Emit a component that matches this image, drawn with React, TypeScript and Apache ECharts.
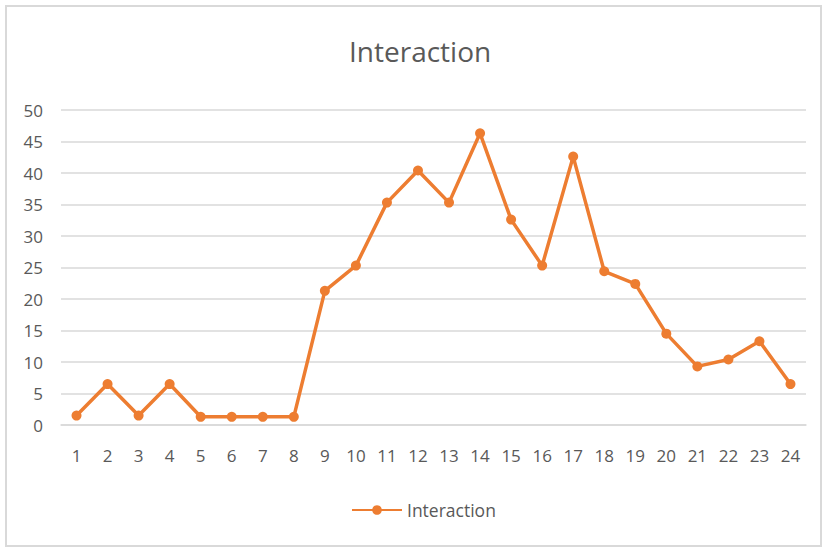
import React, { useEffect, useRef } from "react";
import * as echarts from "echarts";

const categories = ["1","2","3","4","5","6","7","8","9","10","11","12","13","14","15","16","17","18","19","20","21","22","23","24"];
const interaction = [1.5, 6.5, 1.5, 6.5, 1.3, 1.3, 1.3, 1.3, 21.3, 25.3, 35.3, 40.4, 35.3, 46.3, 32.6, 25.3, 42.6, 24.4, 22.4, 14.5, 9.3, 10.4, 13.3, 6.5];
const seriesName = "Interaction";
const titleText = "Interaction";

export default function App() {
  const ref = useRef<HTMLDivElement>(null);
  useEffect(() => {
    if (!ref.current) return;
    const chart = echarts.init(ref.current, undefined, { renderer: "svg" });
    const font = "'Open Sans', 'Liberation Sans', sans-serif";
    chart.setOption({
      animation: false,
      backgroundColor: "#ffffff",
      title: {
        text: titleText,
        left: 337,
        top: 25,
        textStyle: { color: "#595959", fontSize: 28, fontWeight: "normal", fontFamily: font },
      },
      legend: {
        bottom: 21,
        left: 339,
        itemWidth: 50,
        itemHeight: 12,
        itemGap: 4,
        data: [seriesName],
        textStyle: { color: "#595959", fontSize: 17.5, fontFamily: font },
      },
      grid: { left: 54, right: 14, top: 103, bottom: 120, containLabel: false },
      xAxis: {
        type: "category",
        data: categories,
        boundaryGap: true,
        axisLine: { show: true, lineStyle: { color: "#d9d9d9", width: 1.5 } },
        axisTick: { show: false },
        axisLabel: { color: "#595959", fontSize: 17, margin: 22, fontFamily: font },
      },
      yAxis: {
        type: "value",
        min: 0,
        max: 50,
        interval: 5,
        axisLine: { show: false },
        axisTick: { show: false },
        splitLine: { lineStyle: { color: "#d9d9d9", width: 1.5 } },
        axisLabel: { color: "#595959", fontSize: 17, margin: 18, fontFamily: font },
      },
      series: [
        {
          name: seriesName,
          type: "line",
          data: interaction,
          symbol: "circle",
          symbolSize: 10,
          itemStyle: { color: "#ED7D31" },
          lineStyle: { color: "#ED7D31", width: 3.5 },
        },
      ],
    });
    return () => chart.dispose();
  }, []);
  return (
    <div
      style={{
        position: "absolute",
        left: 5,
        top: 5,
        width: 813,
        height: 538,
        border: "2px solid #d9d9d9",
        background: "#fff",
      }}
    >
      <div ref={ref} style={{ width: 813, height: 538 }} />
    </div>
  );
}
